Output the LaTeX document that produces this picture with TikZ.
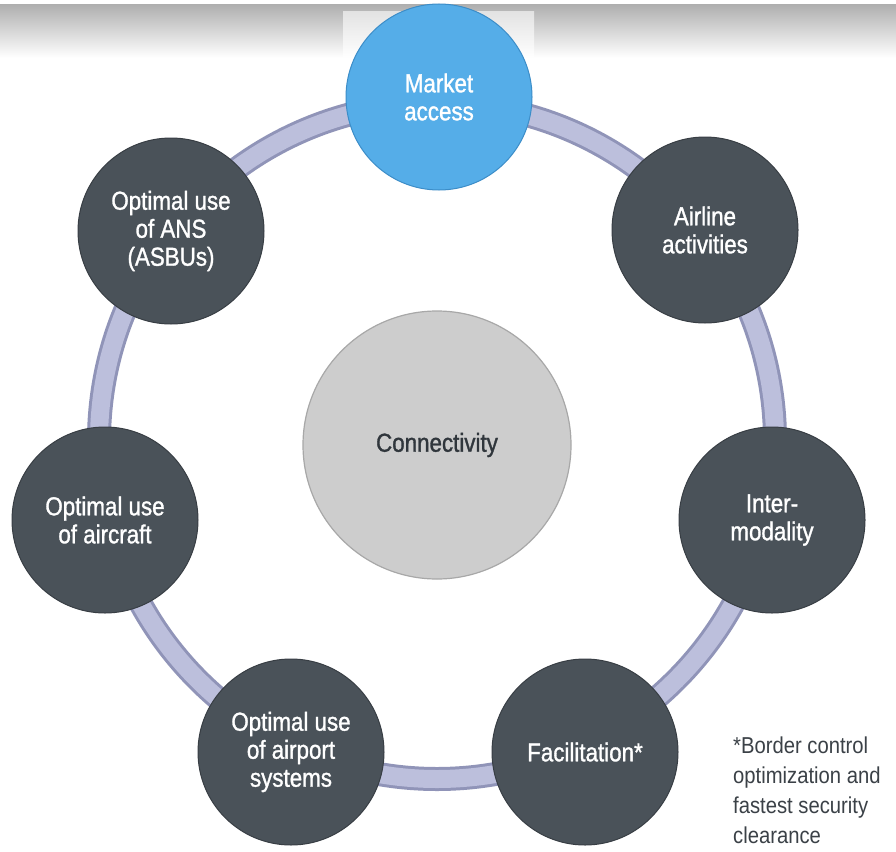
\documentclass[tikz,border=0pt]{standalone}
\usepackage{fontspec}
\setmainfont{Liberation Sans}[FakeStretch=0.88]
\newfontfamily\circfont{Liberation Sans}[FakeStretch=0.86,FakeBold=1.2]
\definecolor{darkc}{HTML}{4A5259}
\definecolor{darkedge}{HTML}{383E44}
\definecolor{bluec}{HTML}{55ADE8}
\definecolor{blueedge}{HTML}{3C8DC8}
\definecolor{greyc}{HTML}{CDCDCD}
\definecolor{greyedge}{HTML}{A8A8A8}
\definecolor{ringdark}{HTML}{9094B8}
\definecolor{ringlight}{HTML}{BCBFDC}
\definecolor{notec}{HTML}{3B4147}
\definecolor{centertext}{HTML}{30363C}
\begin{document}
\begin{tikzpicture}[x=1pt,y=-1pt,
  sat/.style={circle, minimum size=186pt, inner sep=0pt, fill=darkc, draw=darkedge,
    line width=1pt, text=white, font=\circfont\fontsize{26}{28}\selectfont, align=center},
  topsat/.style={sat, fill=bluec, draw=blueedge},
  hub/.style={circle, minimum size=268pt, inner sep=0pt, fill=greyc, draw=greyedge,
    line width=1.2pt, text=centertext, font=\circfont\fontsize{26}{28}\selectfont, align=center},
  ringouter/.style={draw=ringdark, line width=24pt},
  ringinner/.style={draw=ringlight, line width=18pt},
  note/.style={anchor=base west, inner sep=0pt, text=notec}]
\useasboundingbox (0,0) rectangle (896,851);
\fill[white] (0,0) rectangle (896,851);
% top band
\shade[top color=gray!62, bottom color=white] (0,5) rectangle (896,58);
\shade[top color=gray!22, bottom color=white] (343,12) rectangle (534,58);
% ring
\coordinate (ringc) at (437,441);
\draw[ringouter] (ringc) circle[radius=338];
\draw[ringinner] (ringc) circle[radius=338];
% satellites
\node[topsat] (market) at (439,97) {Market\\access};
\node[sat] (airline) at (705,230) {Airline\\activities};
\node[sat] (inter) at (772,520) {Inter-\\modality};
\node[sat] (facil) at (585,752) {Facilitation*};
\node[sat] (airport) at (291,752) {Optimal use\\of airport\\systems};
\node[sat] (aircraft) at (105,520) {Optimal use\\of aircraft};
\node[sat] (ans) at (171,231) {Optimal use\\of ANS\\(ASBUs)};
% hub
\node[hub] (conn) at (437,445) {Connectivity};
% footnote
\node[note] (fn) at (733,753) {\fontsize{23}{30}\selectfont
  \begin{tabular}[t]{@{}l@{}}*Border control\\optimization and\\fastest security\\clearance\end{tabular}};
\end{tikzpicture}
\end{document}
